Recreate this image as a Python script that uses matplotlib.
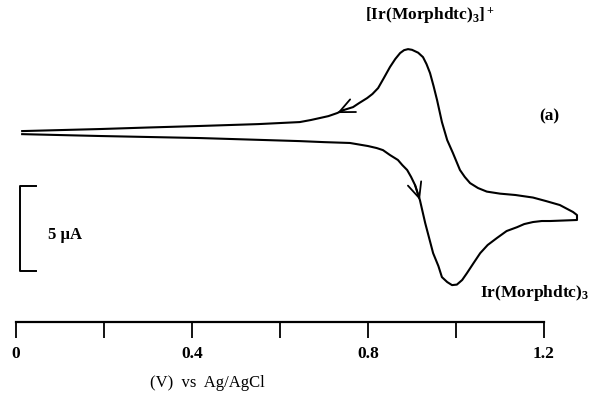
import matplotlib
matplotlib.use("Agg")
import matplotlib.pyplot as plt

# Cyclic voltammogram of Ir(Morphdtc)3 (current in µA, potential in V vs Ag/AgCl)
fwd_V = [0.014, 0.191, 0.418, 0.645, 0.70, 0.759, 0.80, 0.82, 0.834, 0.85, 0.868, 0.878,
         0.889, 0.898, 0.907, 0.918, 0.930, 0.948, 0.960, 0.968, 0.980, 0.991, 1.002,
         1.014, 1.025, 1.040, 1.055, 1.072, 1.093, 1.115, 1.139, 1.155, 1.175, 1.195,
         1.214, 1.245, 1.275]
fwd_I = [-0.24, -0.35, -0.47, -0.65, -0.71, -0.76, -0.94, -1.06, -1.18, -1.47, -1.76, -2.06,
         -2.35, -2.76, -3.24, -4.12, -5.47, -7.24, -8.0, -8.65, -8.94, -9.12, -9.09,
         -8.82, -8.41, -7.82, -7.24, -6.76, -6.35, -5.94, -5.71, -5.53, -5.41, -5.35,
         -5.35, -5.32, -5.29]
rev_V = [1.275, 1.266, 1.236, 1.205, 1.175, 1.135, 1.100, 1.070, 1.050, 1.032, 1.020,
         1.009, 0.993, 0.980, 0.968, 0.957, 0.949, 0.941, 0.933, 0.925, 0.914, 0.900,
         0.891, 0.882, 0.873, 0.862, 0.850, 0.836, 0.823, 0.810, 0.798, 0.780, 0.766,
         0.745, 0.730, 0.710, 0.691, 0.670, 0.645, 0.550, 0.418, 0.300, 0.191, 0.014]
rev_I = [-5.0, -4.82, -4.41, -4.18, -3.97, -3.82, -3.74, -3.62, -3.41, -3.12, -2.76,
         -2.35, -1.35, -0.59, 0.47, 1.76, 2.59, 3.35, 3.88, 4.29, 4.55, 4.72,
         4.76, 4.70, 4.53, 4.18, 3.71, 3.06, 2.47, 2.12, 1.88, 1.59, 1.35,
         1.18, 1.0, 0.82, 0.71, 0.59, 0.47, 0.35, 0.24, 0.15, 0.06, -0.06]
major_ticks = [0, 0.4, 0.8, 1.2]
major_labels = ["0", "0.4", "0.8", "1.2"]
minor_ticks = [0.2, 0.6, 1.0]
scale_bar_uA = 5

plt.rcParams['font.family'] = ['Liberation Serif', 'DejaVu Serif']
plt.rcParams['mathtext.fontset'] = 'custom'
plt.rcParams['mathtext.rm'] = 'Liberation Serif:bold'
plt.rcParams['mathtext.bf'] = 'Liberation Serif:bold'
plt.rcParams['mathtext.it'] = 'Liberation Serif:bold'
plt.rcParams['mathtext.default'] = 'bf'

W, H = 592, 401
fig = plt.figure(figsize=(W / 100, H / 100), dpi=100)
x0, x1, yaxis = 16, 544, 322
ax = fig.add_axes([x0 / W, (H - yaxis) / H, (x1 - x0) / W, yaxis / H])
ax.set_xlim(0, 1.2)
ax.set_ylim(-11.29, 7.65)
for s in ['top', 'left', 'right']:
    ax.spines[s].set_visible(False)
ax.spines['bottom'].set_linewidth(1.6)
ax.set_yticks([])
ax.set_xticks(major_ticks)
ax.set_xticklabels(major_labels, fontsize=12.5, fontweight='bold')
ax.set_xticks(minor_ticks, minor=True)
ax.tick_params(axis='x', which='both', direction='out', length=11.5, width=1.3, pad=6)

V = fwd_V + rev_V
I = fwd_I + rev_I
ax.plot(V, I, color='black', lw=1.5, clip_on=False, solid_joinstyle='round')

# direction arrows
ap = dict(arrowstyle='->,head_length=1.1,head_width=0.5', lw=1.3, color='black',
          shrinkA=0, shrinkB=0)
ir = rev_V.index(0.730)
ax.annotate('', xy=(rev_V[ir], rev_I[ir]), xytext=(rev_V[ir - 1], rev_I[ir - 1]), arrowprops=ap)
jf = fwd_V.index(0.918)
ax.annotate('', xy=(fwd_V[jf], fwd_I[jf]), xytext=(fwd_V[jf - 1], fwd_I[jf - 1]), arrowprops=ap)

# scale bar
sb_x, sb_top = 0.009, -3.29
sb_bot = sb_top - scale_bar_uA
ax.plot([0.045, sb_x, sb_x, 0.045], [sb_top, sb_top, sb_bot, sb_bot],
        color='black', lw=1.4, clip_on=False)
fig.text(48 / W, 1 - 235 / H, "5 µA", fontsize=12, fontweight='bold', va='center', ha='left')

fig.text(430 / W, 1 - 16 / H, r"[Ir(Morphdtc)$_3$]$^+$", fontsize=12.5,
         fontweight='bold', ha='center', va='center')
fig.text(535 / W, 1 - 293 / H, r"Ir(Morphdtc)$_3$", fontsize=12.5,
         fontweight='bold', ha='center', va='center')
fig.text(549 / W, 1 - 116 / H, "(a)", fontsize=12.5, fontweight='bold',
         ha='center', va='center')
fig.text(207 / W, 1 - 383 / H, "(V)  vs  Ag/AgCl", fontsize=12,
         ha='center', va='center')

fig.savefig("out.png", dpi=100)
